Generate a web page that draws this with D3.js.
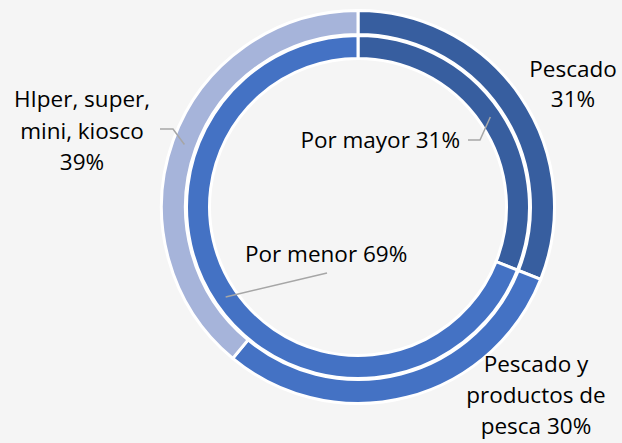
<!DOCTYPE html>
<html>
<head>
<meta charset="utf-8">
<script src="https://cdn.jsdelivr.net/npm/d3@7"></script>
<style>
  html, body { margin: 0; padding: 0; background: #f5f5f5; }
  svg { display: block; }
</style>
</head>
<body>
<svg id="chart" width="622" height="443"></svg>
<script>
// Outer ring: product type
const outerCategories = ["Pescado", "Pescado y productos de pesca", "HIper, super, mini, kiosco"];
const outerValues = [31, 30, 39];
const outerLabelLines = [["Pescado", "31%"], ["Pescado y", "productos de", "pesca 30%"], ["HIper, super,", "mini, kiosco", "39%"]];
const outerColors = ["#375E9F", "#4472C4", "#A6B4DA"];

// Inner ring: sales channel
const innerCategories = ["Por mayor", "Por menor"];
const innerValues = [31, 69];
const innerLabels = ["Por mayor 31%", "Por menor 69%"];
const innerColors = ["#375E9F", "#4472C4"];

const svg = d3.select("#chart");
const cx = 358, cy = 207;
const g = svg.append("g").attr("transform", `translate(${cx},${cy})`);

const pie = d3.pie().sort(null).value(d => d).startAngle(0).endAngle(2 * Math.PI);

const outerArc = d3.arc().innerRadius(172.5).outerRadius(196.5);
const innerArc = d3.arc().innerRadius(148.5).outerRadius(171.5);
const outerMid = d3.arc().innerRadius(184.5).outerRadius(184.5);
const innerMid = d3.arc().innerRadius(160).outerRadius(160);

const outerData = pie(outerValues);
const innerData = pie(innerValues);

g.selectAll("path.outer").data(outerData).join("path")
  .attr("class", "outer")
  .attr("d", outerArc)
  .attr("fill", (d, i) => outerColors[i])
  .attr("stroke", "#ffffff")
  .attr("stroke-width", 3);

g.selectAll("path.inner").data(innerData).join("path")
  .attr("class", "inner")
  .attr("d", innerArc)
  .attr("fill", (d, i) => innerColors[i])
  .attr("stroke", "#ffffff")
  .attr("stroke-width", 3);

const font = "'Open Sans', sans-serif";
const fontSize = 22.5;
const leaderColor = "#a6a6a6";

// Outer labels (relative to centre): x anchor, first baseline, line height, optional leader bend
const outerLayout = [
  { x: 215, y: -130, lh: 30, leader: null },
  { x: 178, y: 165, lh: 31, leader: null },
  { x: -276, y: -100, lh: 31.5, leader: [[-185, -78], [-198, -78]] }
];

outerData.forEach((d, i) => {
  const L = outerLayout[i];
  if (L.leader) {
    const c = outerMid.centroid(d);
    g.append("polyline")
      .attr("points", [c, ...L.leader].map(p => p.join(",")).join(" "))
      .attr("fill", "none").attr("stroke", leaderColor).attr("stroke-width", 1.5);
  }
  const t = g.append("text")
    .attr("font-family", font).attr("font-size", fontSize)
    .attr("fill", "#000").attr("text-anchor", "middle");
  outerLabelLines[i].forEach((line, j) => {
    t.append("tspan").attr("x", L.x).attr("y", L.y + j * L.lh).text(line);
  });
});

// Inner labels
const innerLayout = [
  { x: 102, y: -59, anchor: "end", leader: [[122, -67], [110, -67]] },
  { x: -113, y: 55, anchor: "start", leader: [[-31, 66]] }
];

innerData.forEach((d, i) => {
  const L = innerLayout[i];
  const c = innerMid.centroid(d);
  g.append("polyline")
    .attr("points", [c, ...L.leader].map(p => p.join(",")).join(" "))
    .attr("fill", "none").attr("stroke", leaderColor).attr("stroke-width", 1.5);
  g.append("text")
    .attr("font-family", font).attr("font-size", fontSize)
    .attr("fill", "#000").attr("text-anchor", L.anchor)
    .attr("x", L.x).attr("y", L.y)
    .text(innerLabels[i]);
});
</script>
</body>
</html>
